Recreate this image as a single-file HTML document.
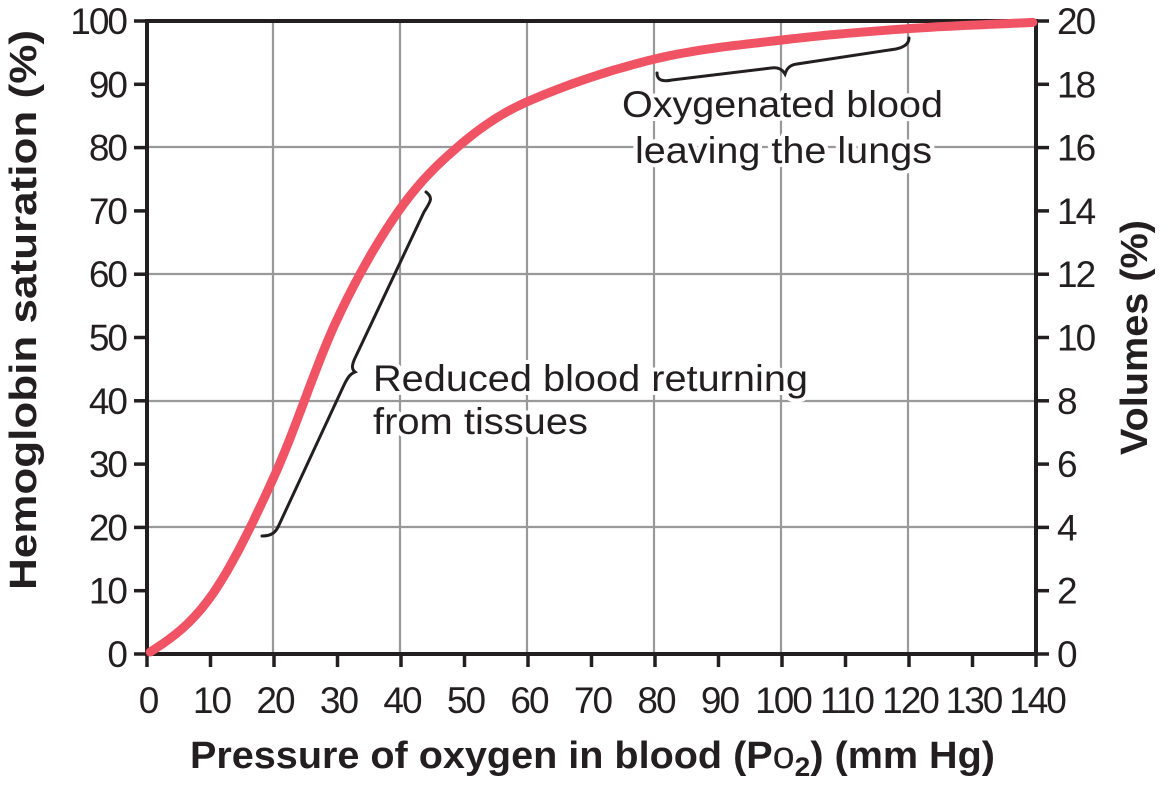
<!DOCTYPE html>
<html><head><meta charset="utf-8"><style>
html,body{margin:0;padding:0;background:#fff;}
svg{display:block;font-family:"Liberation Sans",Arial,sans-serif;}
</style></head><body>
<svg id="s" width="1167" height="801" viewBox="0 0 1167 801" xmlns="http://www.w3.org/2000/svg">
<g stroke="#999" stroke-width="2.2">
<line x1="273" y1="21" x2="273" y2="654"/><line x1="400" y1="21" x2="400" y2="654"/>
<line x1="527" y1="21" x2="527" y2="654"/><line x1="654" y1="21" x2="654" y2="654"/>
<line x1="781" y1="21" x2="781" y2="654"/><line x1="908" y1="21" x2="908" y2="654"/>
<line x1="147" y1="147" x2="1036" y2="147"/><line x1="147" y1="274" x2="1036" y2="274"/>
<line x1="147" y1="401" x2="1036" y2="401"/><line x1="147" y1="527" x2="1036" y2="527"/>
</g>
<g id="ticks" stroke="#231f20" stroke-width="3.5"></g>
<rect x="147" y="21" width="889" height="633" fill="none" stroke="#231f20" stroke-width="4"/>
<polyline id="curve" fill="none" stroke="#f05464" stroke-width="9" stroke-linecap="round" stroke-linejoin="round" points=""/>
<g fill="none" stroke="#231f20" stroke-width="3" stroke-linecap="round">
<path d="M262,536 C272,536 276,532 279,525 L344,385 C348,377 350,374 355,372 C351,369 352,364 356,356 L424,212 C430,202 434,198 426,192"/>
<path d="M657,73 C657,80 662,82 672,80 L771,68 C778,67 782,69 785,74 C787,68 790,65 797,64 L896,49 C905,47 909,43 909,38"/>
</g>
<g fill="#231f20" font-size="37" stroke="#fff" stroke-width="8" paint-order="stroke" stroke-linejoin="round">
<text x="622" y="117" textLength="321" lengthAdjust="spacingAndGlyphs">Oxygenated blood</text>
<text x="635" y="163" textLength="297" lengthAdjust="spacingAndGlyphs">leaving the lungs</text>
<text x="373" y="391" textLength="435" lengthAdjust="spacingAndGlyphs">Reduced blood returning</text>
<text x="373" y="434" textLength="215" lengthAdjust="spacingAndGlyphs">from tissues</text>
</g>
<g id="labels" fill="#231f20" font-size="37" letter-spacing="-2"></g>
<text x="190" y="768" textLength="805" lengthAdjust="spacingAndGlyphs" font-size="38" font-weight="bold" fill="#231f20">Pressure of oxygen in blood (P<tspan font-weight="normal">o</tspan><tspan font-size="27" dy="8">2</tspan><tspan dy="-8">) (mm Hg)</tspan></text>
<text transform="translate(36,310) rotate(-90)" x="-280" textLength="560" lengthAdjust="spacingAndGlyphs" font-size="38" font-weight="bold" fill="#231f20">Hemoglobin saturation (%)</text>
<text transform="translate(1147,338) rotate(-90)" x="-117" textLength="235" lengthAdjust="spacingAndGlyphs" font-size="38" font-weight="bold" fill="#231f20">Volumes (%)</text>
</svg>
<script>
var ns="http://www.w3.org/2000/svg",t=document.getElementById('ticks'),l=document.getElementById('labels');
function L(x1,y1,x2,y2){var e=document.createElementNS(ns,'line');e.setAttribute('x1',x1);e.setAttribute('y1',y1);e.setAttribute('x2',x2);e.setAttribute('y2',y2);t.appendChild(e);}
function T(x,y,s,a){var e=document.createElementNS(ns,'text');e.setAttribute('x',x);e.setAttribute('y',y);e.setAttribute('text-anchor',a);e.textContent=s;l.appendChild(e);}
for(var i=0;i<=14;i++){var x=147+i*889/14;L(x,654,x,667);T(x+1,713,String(i*10),'middle');}
for(var j=0;j<=10;j++){var y=654-j*63.3;L(134,y,147,y);L(1036,y,1049,y);T(126,y+13,String(j*10),'end');T(1057,y+13,String(j*2),'start');}
var X=[0,10,20,30,40,50,60,80,100,120,140];
var Y=[0,9,28,53,70.5,81,87.3,94,97,98.8,99.8];
var n=X.length,m=[];
m[0]=(Y[1]-Y[0])/(X[1]-X[0])*0.7;m[n-1]=(Y[n-1]-Y[n-2])/(X[n-1]-X[n-2]);
for(var k=1;k<n-1;k++)m[k]=(Y[k+1]-Y[k-1])/(X[k+1]-X[k-1]);
function f(P){for(var k=0;k<n-1;k++)if(P<=X[k+1]){var h=X[k+1]-X[k],u=(P-X[k])/h,u2=u*u,u3=u2*u;return (2*u3-3*u2+1)*Y[k]+(u3-2*u2+u)*h*m[k]+(-2*u3+3*u2)*Y[k+1]+(u3-u2)*h*m[k+1];}return Y[n-1];}
var p=[];for(var P=0.5;P<=140;P+=1){var s=f(P);p.push((147+P*6.35).toFixed(1)+','+(654-s*6.33).toFixed(1));}
document.getElementById('curve').setAttribute('points',p.join(' '));
</script>
</body></html>
